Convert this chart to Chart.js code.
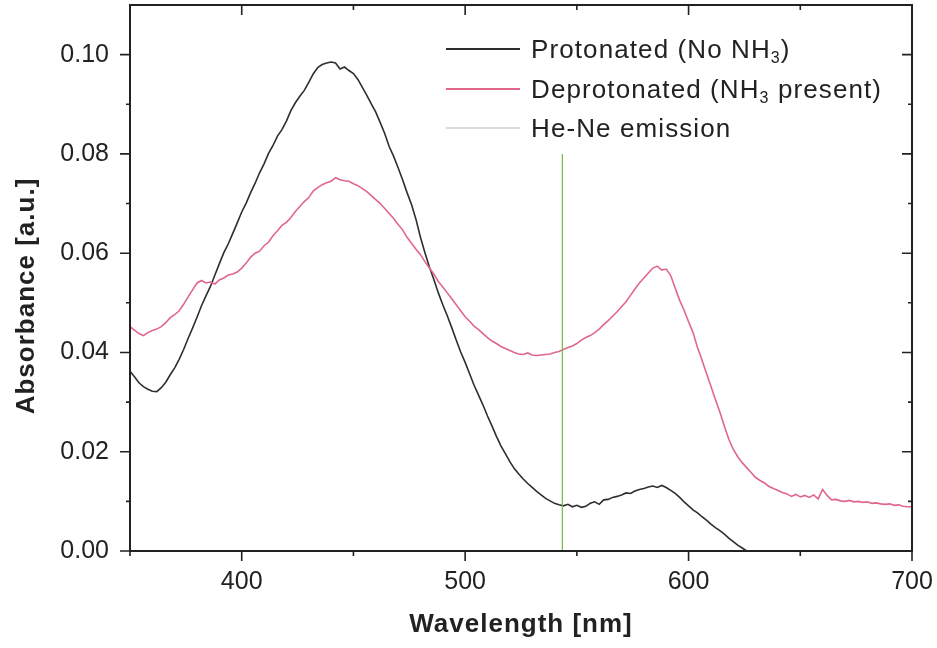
<!DOCTYPE html>
<html>
<head>
<meta charset="utf-8">
<script src="https://cdn.jsdelivr.net/npm/chart.js@4.4.1/dist/chart.umd.min.js"></script>
<style>
  html, body { margin: 0; padding: 0; background: #fff; }
  canvas { display: block; }
</style>
</head>
<body>
<canvas id="chart" width="937" height="648"></canvas>
<script>
// Absorption spectra of the indicator film, with the He-Ne probe line.

// Protonated form (no NH3), wavelength in nm
const protonatedWavelength = [
  350,352,354,356,358,360,362,364,366,368,
  370,372,374,376,378,380,382,384,386,388,
  390,392,394,396,398,400,402,404,406,408,
  410,412,414,416,418,420,422,424,426,428,
  430,432,434,436,438,440,442,444,446,448,
  450,452,454,456,458,460,462,464,466,468,
  470,472,474,476,478,480,482,484,486,488,
  490,492,494,496,498,500,502,504,506,508,
  510,512,514,516,518,520,522,524,526,528,
  530,532,534,536,538,540,542,544,546,548,
  550,552,554,556,558,560,562,564,566,568,
  570,572,574,576,578,580,582,584,586,588,
  590,592,594,596,598,600,602,604,606,608,
  610,612,614,616,618,620,622,624,626
];
const protonatedAbsorbance = [
  .0362,.0351,.0339,.0331,.0326,.0322,.0321,.0329,.0340,.0355,
  .0369,.0386,.0406,.0428,.0449,.0471,.0494,.0514,.0533,.0556,
  .0579,.0601,.0619,.0640,.0661,.0683,.0701,.0722,.0741,.0762,
  .0780,.0801,.0817,.0836,.0849,.0866,.0887,.0903,.0916,.0928,
  .0944,.0961,.0974,.0980,.0983,.0985,.0983,.0971,.0975,.0968,
  .0962,.0950,.0934,.0918,.0901,.0884,.0863,.0841,.0815,.0795,
  .0772,.0748,.0722,.0698,.0668,.0632,.0601,.0572,.0547,.0520,
  .0496,.0474,.0450,.0425,.0401,.0380,.0357,.0334,.0314,.0294,
  .0272,.0252,.0231,.0212,.0196,.0180,.0166,.0155,.0145,.0136,
  .0128,.0120,.0113,.0106,.0101,.0096,.0093,.0091,.0094,.0089,
  .0092,.0088,.0090,.0096,.0099,.0094,.0103,.0104,.0108,.0110,
  .0113,.0117,.0116,.0121,.0124,.0126,.0129,.0131,.0128,.0132,
  .0128,.0122,.0116,.0108,.0099,.0091,.0083,.0077,.0069,.0062,
  .0054,.0047,.0041,.0034,.0026,.0019,.0012,.0006,.0000
];

// Deprotonated form (NH3 present)
const deprotonatedWavelength = [
  350,352,354,356,358,360,362,364,366,368,
  370,372,374,376,378,380,382,384,386,388,
  390,392,394,396,398,400,402,404,406,408,
  410,412,414,416,418,420,422,424,426,428,
  430,432,434,436,438,440,442,444,446,448,
  450,452,454,456,458,460,462,464,466,468,
  470,472,474,476,478,480,482,484,486,488,
  490,492,494,496,498,500,502,504,506,508,
  510,512,514,516,518,520,522,524,526,528,
  530,532,534,536,538,540,542,544,546,548,
  550,552,554,556,558,560,562,564,566,568,
  570,572,574,576,578,580,582,584,586,588,
  590,592,594,596,598,600,602,604,606,608,
  610,612,614,616,618,620,622,624,626,628,
  630,632,634,636,638,640,642,644,646,648,
  650,652,654,656,658,660,662,664,666,668,
  670,672,674,676,678,680,682,684,686,688,
  690,692,694,696,698,700
];
const deprotonatedAbsorbance = [
  .0452,.0445,.0438,.0434,.0440,.0444,.0447,.0452,.0460,.0470,
  .0476,.0484,.0497,.0512,.0526,.0540,.0545,.0540,.0542,.0538,
  .0546,.0550,.0556,.0558,.0562,.0570,.0580,.0592,.0600,.0604,
  .0615,.0622,.0635,.0645,.0656,.0662,.0672,.0684,.0694,.0704,
  .0712,.0725,.0732,.0738,.0742,.0745,.0752,.0748,.0746,.0745,
  .0740,.0736,.0730,.0724,.0716,.0708,.0700,.0690,.0680,.0670,
  .0658,.0647,.0632,.0620,.0608,.0597,.0583,.0570,.0558,.0543,
  .0532,.0520,.0508,.0496,.0484,.0472,.0463,.0453,.0446,.0438,
  .0430,.0423,.0418,.0412,.0408,.0404,.0400,.0397,.0396,.0399,
  .0395,.0394,.0395,.0396,.0397,.0400,.0402,.0406,.0410,.0413,
  .0418,.0425,.0430,.0434,.0440,.0447,.0456,.0464,.0473,.0482,
  .0492,.0502,.0515,.0528,.0540,.0550,.0560,.0570,.0574,.0566,
  .0568,.0555,.0530,.0505,.0485,.0462,.0440,.0410,.0385,.0358,
  .0332,.0305,.0280,.0252,.0225,.0205,.0190,.0178,.0168,.0158,
  .0148,.0142,.0137,.0130,.0126,.0122,.0118,.0115,.0110,.0114,
  .0109,.0112,.0108,.0113,.0105,.0124,.0112,.0103,.0104,.0101,
  .0100,.0102,.0099,.0100,.0098,.0099,.0096,.0097,.0095,.0094,
  .0095,.0092,.0093,.0090,.0089,.0089
];

// He-Ne laser line (543.5 nm), drawn as a vertical marker
const heNeWavelength = [543.5, 543.5];
const heNeAbsorbance = [0, 0.08];

// Labelled ticks
const xTickLabels = [400, 500, 600, 700];
const yTickLabels = ['0.00', '0.02', '0.04', '0.06', '0.08', '0.10'];

// Legend entries: text pieces, second flag marks a subscript
const legendNames = [
  [['Protonated (No NH', false], ['3', true], [')', false]],
  [['Deprotonated (NH', false], ['3', true], [' present)', false]],
  [['He-Ne emission', false]]
];
const legendColors = ['#2e2e2e', '#e0678a', '#d9dcd6'];

const FONT = '"Liberation Sans", Arial, Helvetica, sans-serif';
const INK = '#222';

const toPoints = (xs, ys) => xs.map((v, i) => ({ x: v, y: ys[i] }));

// Frame, inward/outward tick marks, axis titles and the legend
const decorations = {
  id: 'decorations',
  afterDatasetsDraw(chart) {
    const { ctx, chartArea: a, scales: { x, y } } = chart;
    ctx.save();
    ctx.strokeStyle = INK;
    ctx.lineWidth = 2;
    ctx.strokeRect(a.left, a.top, a.right - a.left, a.bottom - a.top);

    ctx.lineWidth = 1.6;
    ctx.beginPath();
    x.ticks.forEach(t => {
      const px = x.getPixelForValue(t.value);
      const len = xTickLabels.includes(t.value) ? 10 : 5;
      ctx.moveTo(px, a.bottom); ctx.lineTo(px, a.bottom + len);
      ctx.moveTo(px, a.top); ctx.lineTo(px, a.top + len);
    });
    y.ticks.forEach(t => {
      const py = y.getPixelForValue(t.value);
      if (py < a.top + 2) return;
      const len = yTickLabels.includes(t.value.toFixed(2)) ? 10 : 4;
      ctx.moveTo(a.left - len, py); ctx.lineTo(a.left, py);
      ctx.moveTo(a.right - len, py); ctx.lineTo(a.right, py);
    });
    ctx.stroke();

    ctx.fillStyle = INK;
    ctx.letterSpacing = '1px';

    // x axis title
    ctx.font = 'bold 26px ' + FONT;
    ctx.textAlign = 'center';
    ctx.textBaseline = 'middle';
    ctx.fillText('Wavelength [nm]', (a.left + a.right) / 2, 625);

    // y axis title
    ctx.save();
    ctx.translate(27, 296);
    ctx.rotate(-Math.PI / 2);
    ctx.fillText('Absorbance [a.u.]', 0, 0);
    ctx.restore();

    // legend
    const lx0 = 446, lx1 = 520, tx = 531;
    const rowY = [49, 89, 128];
    ctx.letterSpacing = '1.1px';
    legendNames.forEach((parts, i) => {
      const yy = rowY[i];
      ctx.strokeStyle = legendColors[i];
      ctx.lineWidth = 1.8;
      ctx.beginPath();
      ctx.moveTo(lx0, yy); ctx.lineTo(lx1, yy);
      ctx.stroke();
      let cx = tx;
      ctx.textAlign = 'left';
      ctx.textBaseline = 'alphabetic';
      parts.forEach(([txt, sub]) => {
        ctx.font = (sub ? '16px ' : '26px ') + FONT;
        ctx.fillText(txt, cx, yy + (sub ? 14 : 9));
        cx += ctx.measureText(txt).width;
      });
    });
    ctx.restore();
  }
};

new Chart(document.getElementById('chart'), {
  type: 'line',
  data: {
    datasets: [
      {
        label: 'He-Ne emission',
        data: toPoints(heNeWavelength, heNeAbsorbance),
        borderColor: '#74b84a',
        borderWidth: 1.2,
        pointRadius: 0
      },
      {
        label: 'Deprotonated (NH3 present)',
        data: toPoints(deprotonatedWavelength, deprotonatedAbsorbance),
        borderColor: '#e0678a',
        borderWidth: 1.6,
        pointRadius: 0
      },
      {
        label: 'Protonated (No NH3)',
        data: toPoints(protonatedWavelength, protonatedAbsorbance),
        borderColor: '#2e2e2e',
        borderWidth: 1.6,
        pointRadius: 0
      }
    ]
  },
  options: {
    responsive: false,
    animation: false,
    devicePixelRatio: 1,
    layout: { padding: { left: 0, top: 5, right: 25, bottom: 0 } },
    plugins: { legend: { display: false }, tooltip: { enabled: false } },
    scales: {
      x: {
        type: 'linear',
        min: 350,
        max: 700,
        grid: { display: false, drawTicks: false },
        border: { display: false },
        ticks: {
          stepSize: 50,
          autoSkip: false,
          maxRotation: 0,
          padding: 16,
          color: INK,
          font: { family: FONT, size: 25 },
          callback: v => (xTickLabels.includes(v) ? String(v) : '')
        },
        afterFit: s => {
          s.height = 97;
          s.paddingLeft = 0;
          s.paddingRight = 0;
        }
      },
      y: {
        min: 0,
        max: 0.11,
        grid: { display: false, drawTicks: false },
        border: { display: false },
        ticks: {
          stepSize: 0.01,
          autoSkip: false,
          padding: 21,
          color: INK,
          font: { family: FONT, size: 25 },
          callback: v => {
            const s = v.toFixed(2);
            return yTickLabels.includes(s) ? s : '';
          }
        },
        afterFit: s => {
          s.width = 130;
          s.paddingTop = 0;
          s.paddingBottom = 0;
        }
      }
    }
  },
  plugins: [decorations]
});
</script>
</body>
</html>
